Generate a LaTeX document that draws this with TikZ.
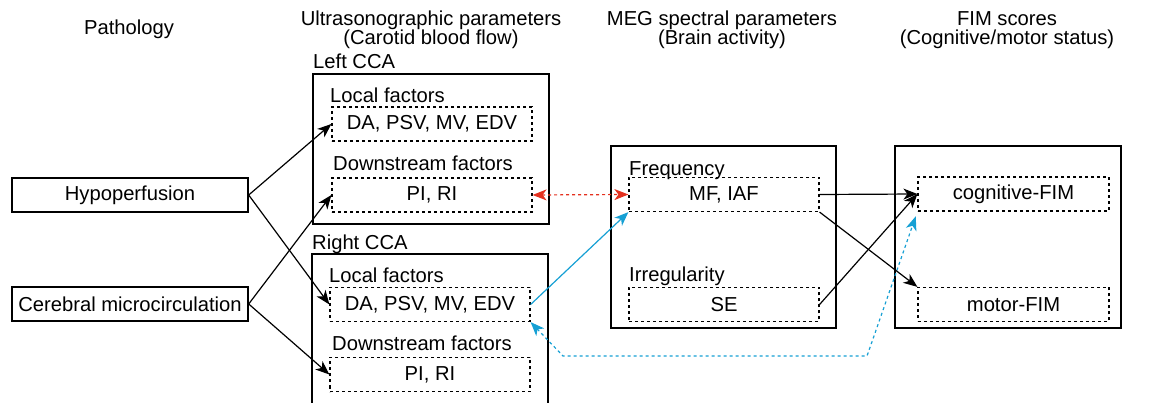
\documentclass[tikz,border=0pt]{standalone}
\usepackage{fontspec}
\setmainfont{Liberation Sans}
\usetikzlibrary{arrows.meta}
\definecolor{myred}{RGB}{228,48,30}
\definecolor{myblue}{RGB}{22,160,212}
\tikzset{
  every node/.style={font=\fontsize{20.2}{19.5}\selectfont},
  solidbox/.style={draw, line width=1.4pt, inner sep=0pt},
  dbox/.style={draw, line width=1.2pt, dash pattern=on 3pt off 3pt, inner sep=0pt, minimum height=34pt},
  lbl/.style={anchor=base west, inner sep=0pt},
  hdr/.style={align=center, inner sep=0pt},
  arr/.style={line width=1.2pt, -{Stealth[length=14pt,width=11pt,inset=4pt]}},
  darr/.style={line width=1.2pt, {Stealth[length=14pt,width=11pt,inset=4pt]}-{Stealth[length=14pt,width=11pt,inset=4pt]}},
}
\begin{document}
\begin{tikzpicture}[x=1pt,y=-1pt]
\useasboundingbox (0,0) rectangle (1149,403);
% headers
\node[hdr] (h1) at (129,29) {Pathology};
\node[hdr] (h2) at (431,30) {Ultrasonographic parameters\\(Carotid blood flow)};
\node[hdr] (h3) at (722,30) {MEG spectral parameters\\(Brain activity)};
\node[hdr] (h4) at (1007,30) {FIM scores\\(Cognitive/motor status)};
% pathology boxes
\node[solidbox, minimum width=236pt, minimum height=34pt] (hyp) at (130,195) {Hypoperfusion};
\node[solidbox, minimum width=236pt, minimum height=34pt] (cer) at (130,304) {Cerebral microcirculation};
% Left CCA
\node[solidbox, minimum width=236pt, minimum height=150pt] (lcca) at (431,149) {};
\node[lbl] (lccal) at (313,69) {Left CCA};
\node[lbl] (lloc) at (330,103) {Local factors};
\node[dbox, minimum width=200pt] (lda) at (432,124) {DA, PSV, MV, EDV};
\node[lbl] (ldown) at (333,171) {Downstream factors};
\node[dbox, minimum width=200pt] (lpi) at (432,195) {PI, RI};
% Right CCA
\draw[line width=1.4pt] (312,420) -- (312,254) -- (548,254) -- (548,420);
\node[lbl] (rccal) at (312,250) {Right CCA};
\node[lbl] (rloc) at (329,283) {Local factors};
\node[dbox, minimum width=200pt] (rda) at (430,304.5) {DA, PSV, MV, EDV};
\node[lbl] (rdown) at (332,351) {Downstream factors};
\node[dbox, minimum width=200pt] (rpi) at (430,374.5) {PI, RI};
% MEG
\node[solidbox, minimum width=225pt, minimum height=182pt] (meg) at (723.5,237) {};
\node[lbl] (freq) at (629,176) {Frequency};
\node[dbox, minimum width=190pt] (mf) at (724,194.5) {MF, IAF};
\node[lbl] (irr) at (629,282) {Irregularity};
\node[dbox, minimum width=190pt] (se) at (724,304.5) {SE};
% FIM
\node[solidbox, minimum width=226pt, minimum height=182pt] (fim) at (1008,237) {};
\node[dbox, minimum width=191pt] (cog) at (1013.5,194) {cognitive-FIM};
\node[dbox, minimum width=191pt] (mot) at (1013.5,304.5) {motor-FIM};
% connectors
\draw[arr] (hyp.east) -- (lda.west);
\draw[arr] (hyp.east) -- (rda.west);
\draw[arr] (cer.east) -- (lpi.west);
\draw[arr] (cer.east) -- (rpi.west);
\draw[darr, myred, dash pattern=on 3pt off 3pt] (lpi.east) -- (mf.west);
\draw[arr, myblue] (rda.east) -- (mf.south west);
\coordinate (b1) at (563,356);
\coordinate (b2) at (867,356);
\draw[darr, myblue, dash pattern=on 3pt off 3pt, shorten >=5pt] (rda.south east) -- (b1) -- (b2) -- (cog.south west);
\draw[arr] (mf.east) -- (cog.west);
\draw[arr] (mf.south east) -- (mot.north west);
\draw[arr] (se.east) -- (cog.west);
\end{tikzpicture}
\end{document}
